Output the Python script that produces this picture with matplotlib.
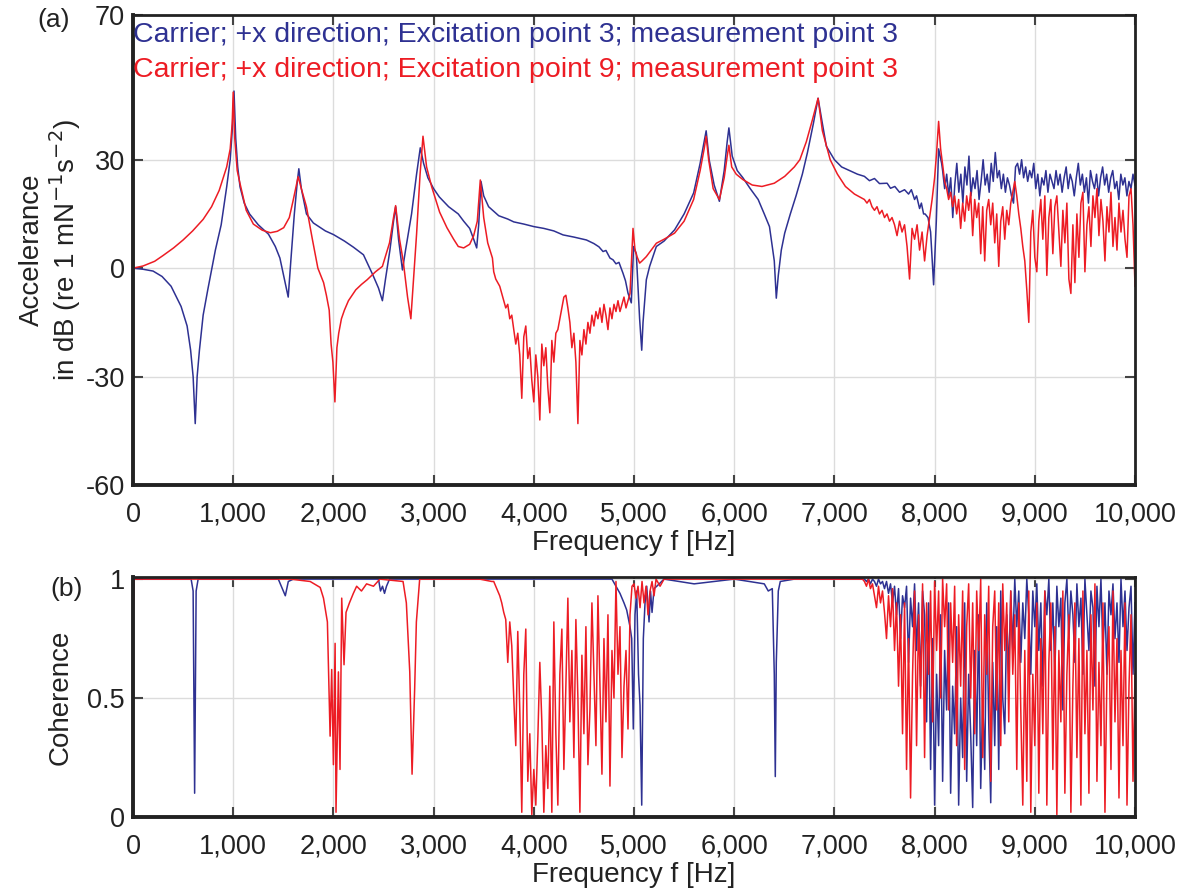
import numpy as np
import matplotlib
matplotlib.use('Agg')
import matplotlib.pyplot as plt
from matplotlib.ticker import FuncFormatter

plt.rcParams['font.family'] = ['Liberation Sans', 'DejaVu Sans']
plt.rcParams['axes.unicode_minus'] = False

# ------------------------------------------------------------------
# (a) accelerance, excitation point 3 (blue) - smooth part
blue_f = [0, 100, 200, 290, 380, 480, 540, 575, 600, 621, 640, 663, 700, 746, 822, 880, 935, 970, 990,
          1008, 1025, 1045, 1068, 1110, 1163, 1250, 1352, 1420, 1466, 1510, 1549, 1575, 1610, 1640, 1655,
          1680, 1731, 1800, 1920, 2000, 2110, 2200, 2300, 2394, 2450, 2489, 2520, 2564, 2600, 2621, 2650,
          2689, 2720, 2780, 2830, 2867, 2900, 2943, 3000, 3057, 3150, 3246, 3300, 3360, 3400, 3430, 3450,
          3473, 3500, 3549, 3650, 3739, 3800, 3900, 4000, 4100, 4200, 4292, 4400, 4525, 4600, 4650, 4691,
          4720, 4760, 4791, 4820, 4850, 4890, 4915, 4940, 4973, 4996, 5023, 5056, 5077, 5090, 5123, 5156,
          5223, 5300, 5405, 5500, 5595, 5660, 5700, 5720, 5750, 5800, 5852, 5900, 5930, 5947, 5980, 6030,
          6087, 6160, 6239, 6300, 6352, 6400, 6420, 6440, 6470, 6504, 6560, 6617, 6680, 6731, 6790, 6837,
          6880, 6920, 7000, 7072, 7150, 7230, 7299, 7350, 7400, 7450, 7526, 7560, 7603, 7650, 7700, 7740,
          7768, 7800, 7820, 7850, 7868, 7890, 7905, 7934, 7960, 7990, 8017, 8040, 8070]
blue_db = [0, -0.3, -0.8, -2.3, -5, -10.6, -16, -22.7, -30, -43, -30, -22.7, -13, -6, 5, 12, 22.5, 30, 38,
           49, 36, 28, 22.5, 18, 15, 12, 9.4, 6, 2.8, -3, -8, 2, 15, 24, 27.5,
           22, 15, 12.5, 10.3, 9.3, 7.5, 5.8, 3.7, -1.9, -5.5, -9, -3, 5, 13, 17, 8,
           -0.5, 5, 15, 26, 33.3, 29, 25, 22, 19.7, 17, 15, 13, 11, 8, 5.6, 12,
           24, 20, 17, 14.5, 13.6, 12.8, 12.2, 11.5, 11.0, 10.3, 9.2, 8.6, 7.8, 6.8, 5.9, 4.6,
           4.9, 2.8, 2.3, 1.2, 1.6, -1.4, -3.5, -6.9, -9.6, 6, 4, -14, -22.7, -15, -3.2, 0.5,
           6, 7.5, 10.6, 15, 20.8, 29, 35, 38, 30, 23, 18.5, 27, 35, 38.8, 31, 27,
           25, 22, 19, 15, 11.5, 2, -8.3, -2, 5, 9.7, 15, 20, 26, 32, 40, 47,
           40, 33.7, 30, 28, 27, 26, 25.4, 24.2, 24.8, 23.4, 23.5, 22.1, 22.6, 21.0, 21.7, 20.5,
           21.7, 19.0, 20, 16.5, 18, 15.0, 15, 14, 10, -4.6, 13, 33, 29]
# blue, noisy part 8080-10000 Hz
blue_db_hi = [27, 22, 26, 20, 25, 14, 23, 29, 21, 26, 18, 28, 23, 31, 20, 25, 22, 27, 19, 24,
              30, 23, 26, 21, 29, 24, 32, 25, 27, 22, 26, 21, 25, 23, 20, 18, 28, 29, 26, 30,
              25, 28, 24, 27, 25, 29, 22, 26, 20, 25, 23, 27, 21, 26, 24, 22, 27, 23, 26, 21,
              25, 28, 22, 26, 24, 20, 25, 29, 23, 26, 21, 25, 18, 27, 24, 22, 26, 20, 25, 28,
              23, 26, 21, 25, 27, 22, 24, 19, 26, 23, 25, 20, 24, 22, 26, 23]

# (a) accelerance, excitation point 9 (red) - smooth part
red_f = [0, 100, 216, 300, 405, 500, 595, 700, 784, 860, 935, 970, 990, 1000, 1015, 1040, 1068, 1130,
         1201, 1290, 1371, 1440, 1504, 1560, 1598, 1630, 1648, 1690, 1731, 1790, 1845, 1902, 1930, 1958,
         1977, 1995, 2015, 2035, 2053, 2080, 2110, 2150, 2223, 2280, 2337, 2420, 2489, 2560, 2600, 2621,
         2660, 2697, 2740, 2773, 2800, 2830, 2865, 2894, 2930, 2981, 3060, 3133, 3200, 3246, 3300, 3360,
         3400, 3436, 3466, 3500, 3540, 3587]
red_db = [0, 0.6, 1.9, 3.5, 5.6, 7.8, 10.3, 13.5, 17, 21.5, 28, 33, 40, 48.7, 36, 27, 23.4, 16,
          12.2, 10.5, 9.8, 10.2, 11.2, 14, 18.7, 23, 25.3, 21, 17, 8, 0, -4, -7.5, -11.6,
          -21, -26, -37, -22, -18, -14, -11.6, -9, -6, -4.5, -3.2, -1, 0.5, 7, 14, 17.3,
          8, 1.9, -8, -14, -3, 9.4, 26, 36.5, 28, 22.5, 15.5, 11.2, 8, 6, 5.6, 6.6,
          9, 13, 24.4, 14, 7, 2.8]
# red, noisy part 3600-4960 Hz
red_db_mid = [-1, -3, -4, -5, -7, -9, -11, -10, -14, -13, -17, -21, -18, -24, -36, -19, -16, -25, -22, -31,
              -37, -24, -30, -42, -21, -27, -22, -33, -40, -20, -26, -18, -17, -14, -11, -8, -7.5, -11, -15, -22,
              -18, -26, -43, -20, -24, -17, -21, -15, -18, -13, -16, -12, -14, -11, -15, -10, -13, -17, -11, -14,
              -10, -12, -9, -12, -10, -8, -11, -9, -7]
red_f2 = [4990, 5010, 5030, 5056, 5080, 5123, 5223, 5300, 5405, 5500, 5595, 5660, 5700, 5720, 5745, 5790,
          5852, 5900, 5930, 5947, 5975, 6020, 6087, 6180, 6277, 6400, 6504, 6600, 6655, 6720, 6780, 6837,
          6880, 6958, 7030, 7110, 7200, 7299, 7325, 7350, 7375, 7400, 7425, 7450, 7475, 7500, 7525, 7550,
          7575, 7600, 7625, 7650, 7675, 7700, 7725, 7750, 7775, 7800, 7825, 7850, 7875, 7900, 7925, 7950,
          7975, 8000, 8020, 8040, 8060, 8083, 8100]
red_db2 = [11, 5, 3.2, 1.4, 2, 3.2, 6.9, 8, 9.7, 13, 19, 27, 33, 36.5, 30, 22,
           19, 25, 31, 34, 28, 26, 24.5, 23, 22.6, 23.5, 25.4, 28, 30, 35, 41, 47,
           38, 30, 26, 22.6, 20.5, 19, 18, 19, 17, 16, 17, 15, 16, 14, 15, 13,
           14, 12, 9, 13, 10, 12, 6, -3, 11, 8, 12, 5, 10, 2, 9, 14,
           19, 25, 32, 40.6, 33, 28, 24]
# red, noisy part 8120-10000 Hz
red_db_hi = [22, 19, 21, 17, 20, 15, 19, 11, 18, 13, 20, 16, 21, 9, 19, 14, 18, 4, 17, 2,
             16, 19, 12, 18, 7, 15, 0.5, 13, 17, 8, 16, 12, 18, 21, 24, 20, 15, 11, 6, 2,
             -6, -15, 10, 16, 3, -1, 13, 19, 8, 20, -2, 14, 19, 4, 17, 20, 10, 0.5, 16, 7,
             18, -3, -7, 12, -4, 15, 3, 18, 21, -1, 12, 17, 6, 20, 14, 22, 9, 19, 13, 2,
             17, 10, 21, 6, 14, 5, 18, 10, 16, 8, 3, 20, 22, 12, -5]

# ------------------------------------------------------------------
# (b) coherence, blue
bcoh_f = [0, 10, 580, 600, 615, 630, 650, 1450, 1480, 1520, 1550, 1600, 2450, 2470, 2490, 2510, 2530,
          2560, 4780, 4820, 4860, 4900, 4927, 4960, 4977, 4993, 5010, 5027, 5045, 5060, 5077, 5093, 5110,
          5127, 5150, 5165, 5180, 5200, 5227, 5300, 5600, 5800, 6000, 6300, 6340, 6380, 6400, 6410, 6420,
          6440, 6460, 6600, 7280]
bcoh = [0.85, 1, 1, 0.95, 0.1, 0.95, 1, 1, 0.97, 0.93, 0.99, 1, 1, 0.95, 0.97, 0.94, 0.97,
        1, 1, 0.97, 0.94, 0.9, 0.87, 0.8, 0.75, 0.37, 0.85, 0.95, 0.6, 0.47, 0.05, 0.75, 0.9,
        0.97, 0.82, 0.95, 0.86, 0.96, 0.97, 1, 0.98, 0.99, 1, 0.98, 0.95, 0.96, 0.6, 0.17, 0.65,
        0.95, 0.99, 1, 1]
bcoh_hi = [1, 0.99, 1, 0.98, 1, 0.99, 0.97, 1, 0.98, 0.99, 0.96, 0.99, 0.94, 0.98, 0.9, 0.97,
           0.85, 0.96, 0.75, 0.93, 0.88, 0.97, 0.65, 0.92, 0.8, 0.98, 0.7, 0.9, 0.55, 0.95,
           0.85, 0.4, 0.9, 0.2, 0.75, 0.05, 0.6, 0.3, 0.85, 0.15, 0.7, 0.45, 0.9, 0.1, 0.55,
           0.35, 0.8, 0.05, 0.5, 0.25, 0.9, 0.15, 0.6, 0.35, 0.04, 0.7, 0.3, 0.85, 0.12, 0.5,
           0.2, 0.9, 0.4, 0.06, 0.65, 0.3, 0.8, 0.2, 0.95, 0.5, 0.35, 0.85, 0.6, 0.95, 0.7,
           1, 0.8, 0.95, 0.65, 0.9, 0.75, 1, 0.85, 0.6, 0.95, 0.8, 0.98, 0.7, 0.9, 0.55,
           0.95, 0.85, 1, 0.7, 0.9, 0.6, 0.97, 0.8, 0.92, 0.45, 0.9, 1, 0.75, 0.95, 0.85,
           0.65, 0.98, 0.8, 0.92, 0.6, 1, 0.85, 0.7, 0.95, 0.88, 0.55, 0.97, 0.8, 1, 0.7,
           0.9, 0.6, 0.95, 0.85, 0.98, 0.75, 0.9, 0.65, 1, 0.8, 0.95, 0.7, 0.88, 0.97, 0.6, 0.9]

# (b) coherence, red
rcoh_f = [0, 10, 1570, 1768, 1868, 1901, 1940, 1967, 1983, 2000, 2017, 2026, 2050, 2066, 2083, 2106,
          2126, 2160, 2199, 2232, 2280, 2331, 2400, 2464, 2695, 2728, 2762, 2785, 2811, 2828, 2861, 3460,
          3580]
rcoh = [0.8, 1, 1, 0.99, 0.965, 0.92, 0.82, 0.34, 0.62, 0.22, 0.73, 0.02, 0.61, 0.2, 0.92, 0.64,
        0.86, 0.9, 0.94, 0.97, 0.95, 0.98, 0.97, 1, 0.99, 0.9, 0.61, 0.18, 0.54, 0.82, 1, 1,
        0.99]
rcoh_mid = [0.99, 0.97, 0.95, 0.93, 0.9, 0.86, 0.83, 0.65, 0.82, 0.72, 0.5, 0.3, 0.78, 0.45, 0.02,
            0.6, 0.79, 0.15, 0.35, 0.01, 0.2, 0.05, 0.33, 0.65, 0.4, 0.02, 0.3, 0.12, 0.55, 0.02,
            0.82, 0.35, 0.05, 0.6, 0.79, 0.2, 0.55, 0.92, 0.4, 0.7, 0.25, 0.83, 0.5, 0.02, 0.68,
            0.35, 0.8, 0.22, 0.45, 0.9, 0.6, 0.3, 0.93, 0.55, 0.18, 0.75, 0.4, 0.85, 0.13, 0.7,
            0.5, 0.99, 0.6, 0.8, 0.25, 0.55, 0.7, 0.37, 0.85, 0.97]
rcoh_f2 = [5000, 5020, 5040, 5060, 5080, 5100, 5120, 5140, 5160, 5180, 5200, 5220, 5260, 5300, 7280]
rcoh2 = [0.98, 0.92, 0.97, 0.88, 0.99, 0.9, 0.97, 0.85, 0.95, 0.99, 0.93, 1, 0.97, 1, 1]
rcoh_hi = [0.99, 0.97, 1, 0.96, 0.98, 0.93, 0.88, 0.97, 0.9, 0.95, 0.86, 0.75, 0.93, 0.8, 0.96,
           0.7, 0.9, 0.55, 0.85, 0.35, 0.9, 0.2, 0.75, 0.08, 0.6, 0.95, 0.3, 0.85, 0.5, 0.98,
           0.25, 0.9, 0.6, 0.95, 0.4, 0.99, 0.7, 0.95, 0.5, 1, 0.8, 0.98, 0.45, 0.9, 0.65,
           0.97, 0.3, 0.85, 0.55, 0.95, 0.2, 0.8, 0.98, 0.5, 0.9, 0.35, 0.95, 0.7, 1, 0.25,
           0.85, 0.6, 0.97, 0.15, 0.8, 0.95, 0.45, 0.9, 0.3, 0.98, 0.7, 0.9, 0.4, 0.95, 0.6,
           0.85, 0.2, 0.9, 0.45, 0.05, 0.7, 0.15, 0.95, 0.02, 0.6, 0.3, 0.9, 0.1, 0.75, 0.35,
           0.95, 0.05, 0.65, 0.9, 0.2, 0.8, 0.01, 0.7, 0.4, 0.95, 0.1, 0.6, 0.85, 0.02, 0.55,
           0.9, 0.25, 0.75, 0.05, 0.95, 0.35, 0.7, 0.1, 0.85, 0.45, 0.98, 0.15, 0.65, 0.3, 0.9,
           0.02, 0.6, 0.8, 0.2, 0.95, 0.4, 0.75, 0.08, 0.7, 0.3, 0.9, 0.05, 0.55, 0.85, 0.15, 0.6]

labels = ['Carrier; +x direction; Excitation point 3; measurement point 3',
          'Carrier; +x direction; Excitation point 9; measurement point 3']
blue = '#2e3192'
red = '#ed1c24'

# ------------------------------------------------------------------
fb = np.concatenate([blue_f, np.linspace(8080, 10000, len(blue_db_hi))])
yb = np.concatenate([blue_db, blue_db_hi])
fr = np.concatenate([red_f, np.linspace(3600, 4960, len(red_db_mid)), red_f2,
                     np.linspace(8120, 10000, len(red_db_hi))])
yr = np.concatenate([red_db, red_db_mid, red_db2, red_db_hi])

fcb = np.concatenate([bcoh_f, np.linspace(7300, 10000, len(bcoh_hi))])
cb = np.concatenate([bcoh, bcoh_hi])
fcr = np.concatenate([rcoh_f, np.linspace(3600, 4980, len(rcoh_mid)), rcoh_f2,
                      np.linspace(7300, 10000, len(rcoh_hi))])
cr = np.concatenate([rcoh, rcoh_mid, rcoh2, rcoh_hi])

fig = plt.figure(figsize=(11.95, 8.9), dpi=100)
ax1 = fig.add_axes([0.1113, 0.455, 0.8385, 0.528])
ax2 = fig.add_axes([0.1113, 0.082, 0.8385, 0.270])

thousands = FuncFormatter(lambda v, p: '{:,.0f}'.format(v))

for ax in (ax1, ax2):
    ax.set_xlim(0, 10000)
    ax.set_xticks(np.arange(0, 10001, 1000))
    ax.xaxis.set_major_formatter(thousands)
    ax.grid(True, color='#dcdcdc', linewidth=1)
    ax.set_axisbelow(True)
    ax.tick_params('both', direction='in', top=True, right=True, length=7, width=1.5,
                   color='#444444', labelsize=19.5, labelcolor='#222222')
    ax.tick_params('x', pad=12)
    ax.tick_params('y', pad=6)
    for s in ax.spines.values():
        s.set_linewidth(2)
        s.set_color('#222222')
    ax.spines['left'].set_linewidth(2.8)
    ax.spines['bottom'].set_linewidth(2.8)
    ax.set_xlabel('Frequency f [Hz]', fontsize=20, color='#222222', labelpad=2)

ax1.plot(fb, yb, color=blue, lw=1.1)
ax1.plot(fr, yr, color=red, lw=1.1)
ax1.set_ylim(-60, 70)
ax1.set_yticks([-60, -30, 0, 30, 70])
ax1.set_ylabel('Accelerance\nin dB (re 1 mN$^{-1}$s$^{-2}$)', fontsize=20, color='#222222',
               labelpad=2, linespacing=1.05)
ax1.text(0.0, 0.985, labels[0], transform=ax1.transAxes, color=blue, fontsize=20.5, va='top', ha='left')
ax1.text(0.0, 0.910, labels[1], transform=ax1.transAxes, color=red, fontsize=20.5, va='top', ha='left')

ax2.plot(fcb, cb, color=blue, lw=1.1)
ax2.plot(fcr, cr, color=red, lw=1.1)
ax2.set_ylim(0, 1.01)
ax2.set_yticks([0, 0.5, 1])
ax2.set_yticklabels(['0', '0.5', '1'])
ax2.set_ylabel('Coherence', fontsize=20, color='#222222', labelpad=10)

fig.text(0.031, 0.977, '(a)', fontsize=19, color='#222222', va='center')
fig.text(0.042, 0.338, '(b)', fontsize=19, color='#222222', va='center')

fig.savefig('out.png', dpi=100)
